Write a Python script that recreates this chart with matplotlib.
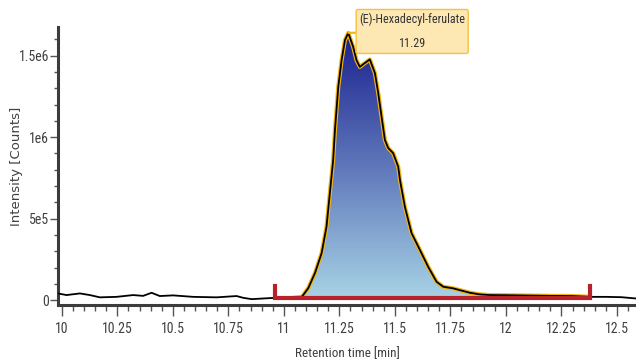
import matplotlib
matplotlib.use("Agg")
import matplotlib.pyplot as plt
import numpy as np
from matplotlib import font_manager
from matplotlib.colors import LinearSegmentedColormap
from matplotlib.ticker import FixedLocator, MultipleLocator

# chromatogram trace (time in min, intensity in counts)
rt_min = [
    9.982, 10.021, 10.081, 10.126, 10.171, 10.246, 10.321, 10.366, 10.404, 10.441,
    10.501, 10.591, 10.697, 10.787, 10.817, 10.855, 10.907, 10.959, 11.042, 11.080,
    11.087, 11.110, 11.140, 11.170, 11.192, 11.207, 11.222, 11.230, 11.245, 11.260,
    11.275, 11.290, 11.312, 11.327, 11.342, 11.360, 11.387, 11.410, 11.425, 11.440,
    11.455, 11.470, 11.492, 11.515, 11.523, 11.545, 11.575, 11.613, 11.650, 11.688,
    11.718, 11.763, 11.793, 11.838, 11.883, 11.928, 12.000, 12.100, 12.200, 12.300,
    12.380, 12.450, 12.520, 12.586,
]
intensity = [
    0.041e6, 0.031e6, 0.041e6, 0.031e6, 0.017e6, 0.020e6, 0.031e6, 0.026e6, 0.045e6, 0.025e6,
    0.029e6, 0.020e6, 0.017e6, 0.025e6, 0.014e6, 0.006e6, 0.010e6, 0.014e6, 0.014e6, 0.020e6,
    0.031e6, 0.074e6, 0.166e6, 0.288e6, 0.450e6, 0.656e6, 0.859e6, 1.043e6, 1.309e6, 1.472e6,
    1.595e6, 1.640e6, 1.554e6, 1.472e6, 1.431e6, 1.450e6, 1.477e6, 1.393e6, 1.270e6, 1.125e6,
    0.982e6, 0.933e6, 0.902e6, 0.818e6, 0.736e6, 0.572e6, 0.411e6, 0.307e6, 0.204e6, 0.112e6,
    0.082e6, 0.072e6, 0.061e6, 0.045e6, 0.035e6, 0.031e6, 0.030e6, 0.028e6, 0.026e6, 0.025e6,
    0.020e6, 0.020e6, 0.018e6, 0.010e6,
]

peak_name = "(E)-Hexadecyl-ferulate"
peak_rt = 11.29
peak_height = 1.640e6
peak_start = 10.96
peak_end = 12.38

x_ticks = [10, 10.25, 10.5, 10.75, 11, 11.25, 11.5, 11.75, 12, 12.25, 12.5]
x_tick_labels = ["10", "10.25", "10.5", "10.75", "11", "11.25", "11.5", "11.75", "12", "12.25", "12.5"]
y_ticks = [0, 5e5, 1e6, 1.5e6]
y_tick_labels = ["0", "5e5", "1e6", "1.5e6"]


def narrow_font():
    """找一个窄字体，没有就用 DejaVu Sans 的 condensed。"""
    names = {f.name for f in font_manager.fontManager.ttflist}
    for cand in ["Liberation Sans Narrow", "Roboto Condensed", "Open Sans Condensed",
                 "Noto Sans Display", "Arial Narrow"]:
        if cand in names:
            return dict(family=[cand, "DejaVu Sans"])
    return dict(family="DejaVu Sans", fontstretch="condensed")


nf = narrow_font()
axis_grey = "#3c3c3c"
text_grey = "#404040"

t = np.array(rt_min)
y = np.array(intensity)

fig = plt.figure(figsize=(6.36, 3.62), dpi=100)
ax = fig.add_axes([0.091, 0.157, 0.909, 0.768])
ax.set_xlim(9.982, 12.586)
ax.set_ylim(-0.031e6, 1.675e6)

# gradient filled peak area, clipped to the integrated region
in_peak = (t >= peak_start) & (t <= peak_end)
area = ax.fill_between(t[in_peak], y[in_peak], 0.012e6, facecolor="none", edgecolor="none")
cmap = LinearSegmentedColormap.from_list("peak", ["#a8d4e6", "#5f77ba", "#1a1f8e"])
grad = np.linspace(0, 1, 256).reshape(-1, 1)
img = ax.imshow(grad, cmap=cmap, origin="lower", aspect="auto",
                extent=[peak_start, peak_end, 0, peak_height], zorder=1)
img.set_clip_path(area.get_paths()[0], transform=ax.transData)

# outline: orange under black
ax.plot(t[in_peak], y[in_peak], color="#f2b412", lw=3.0, zorder=2, solid_capstyle="round")
ax.plot(t, y, color="black", lw=1.3, zorder=3)

# integration baseline
ax.plot([peak_start, peak_start, peak_end, peak_end], [0.085e6, 0.012e6, 0.012e6, 0.085e6],
        color="#b8212a", lw=3.0, zorder=4, solid_joinstyle="miter")

# peak label, box to the right of the apex
ax.annotate(f"{peak_name}\n{peak_rt:.2f}", xy=(peak_rt, peak_height),
            xytext=(46, 1), textcoords="offset points",
            ha="center", va="center", fontsize=8.7, color="#333333", linespacing=2.15,
            bbox=dict(boxstyle="round,pad=0.25,rounding_size=0.15", fc="#fde8b4", ec="#f5c23c", lw=1),
            arrowprops=dict(arrowstyle="-", color="#f2b412", lw=1.5, shrinkA=0, shrinkB=0),
            zorder=6, **nf)

ax.spines[["top", "right"]].set_visible(False)
for side in ["left", "bottom"]:
    ax.spines[side].set_linewidth(2.2)
    ax.spines[side].set_color(axis_grey)

ax.xaxis.set_major_locator(FixedLocator(x_ticks))
ax.set_xticklabels(x_tick_labels)
ax.xaxis.set_minor_locator(MultipleLocator(0.05))
ax.yaxis.set_major_locator(FixedLocator(y_ticks))
ax.set_yticklabels(y_tick_labels)
ax.yaxis.set_minor_locator(MultipleLocator(1e5))

ax.tick_params(axis="x", which="major", length=8, width=1, color="#555555", pad=4)
ax.tick_params(axis="x", which="minor", length=4, width=1, color="#555555")
ax.tick_params(axis="y", which="major", length=6, width=1, color="#555555", pad=0.5)
ax.tick_params(axis="y", which="minor", length=3, width=1, color="#555555")
for lab in ax.get_xticklabels() + ax.get_yticklabels():
    lab.set_fontsize(10)
    lab.set_color(text_grey)
    lab.set_family(nf["family"])
    if "fontstretch" in nf:
        lab.set_fontstretch(nf["fontstretch"])

ax.set_xlabel("Retention time [min]", fontsize=9.5, color=text_grey, labelpad=8, **nf)
ax.set_ylabel("Intensity [Counts]", family="DejaVu Sans", fontstretch="normal",
              fontsize=9.5, color=text_grey)
ax.yaxis.set_label_coords(-0.06, 0.5)

fig.savefig("out.png", dpi=100)
plt.close(fig)
